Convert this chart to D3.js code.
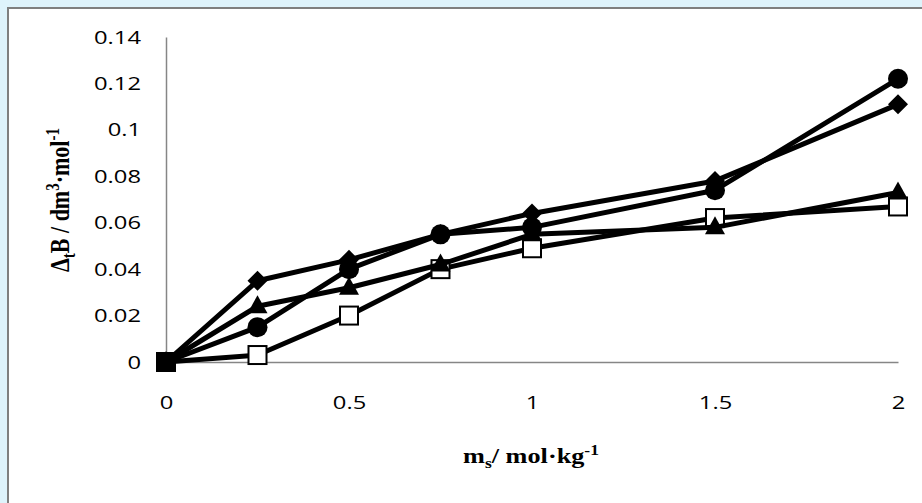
<!DOCTYPE html>
<html>
<head>
<meta charset="utf-8">
<script src="https://cdn.jsdelivr.net/npm/d3@7"></script>
<style>
  body { margin: 0; background: #def3fb; }
  svg { display: block; }
</style>
</head>
<body>
<div class="container"></div>
<script>
// data
const xs = [0, 0.25, 0.5, 0.75, 1, 1.5, 2];
const squareVals = [0, 0.003, 0.020, 0.040, 0.049, 0.062, 0.067];
const triangleVals = [0, 0.024, 0.032, 0.042, 0.055, 0.058, 0.073];
const circleVals = [0, 0.015, 0.040, 0.055, 0.058, 0.074, 0.122];
const diamondVals = [0, 0.035, 0.044, 0.055, 0.064, 0.078, 0.111];
const originVals = [0]; // filled square sitting at the origin
const xTicks = [0, 0.5, 1, 1.5, 2];
const yTicks = [0, 0.02, 0.04, 0.06, 0.08, 0.1, 0.12, 0.14];

const width = 922;
const height = 503;
const stretch = 1.25; // the source picture is stretched sideways

// scales
const xScale = d3.scaleLinear().domain([0, 2]).range([166, 898]);
const yScale = d3.scaleLinear().domain([0, 0.14]).range([362, 37]);

const svg = d3.select("div.container")
  .append("svg")
  .attr("width", width)
  .attr("height", height);

// chart area box
svg.append("rect")
  .attr("x", 8).attr("y", 8)
  .attr("width", width).attr("height", height)
  .attr("fill", "#fff")
  .attr("stroke", "#7f7f7f")
  .attr("stroke-width", 2);

// axes (no tick marks, gray lines)
const xAxis = d3.axisBottom(xScale).tickValues(xTicks).tickSize(0).tickPadding(34)
  .tickFormat(d => d3.format("")(d));
const yAxis = d3.axisLeft(yScale).tickValues(yTicks).tickSize(0).tickPadding(20)
  .tickFormat(d => d3.format("")(d));

const gx = svg.append("g").attr("id", "x-axis").attr("transform", `translate(0,${yScale(0)})`).call(xAxis);
const gy = svg.append("g").attr("id", "y-axis").attr("transform", `translate(${xScale(0)},0)`).call(yAxis);
[gx, gy].forEach(g => {
  g.select(".domain").attr("stroke", "#868686").attr("stroke-width", 1.5);
  g.selectAll("text").attr("font-family", "Open Sans").attr("font-size", 19).attr("fill", "#000")
    .attr("transform", `scale(${stretch},1)`);
});

// series lines
const line = d3.line().x((d, i) => xScale(xs[i])).y(d => yScale(d));
const series = [
  { vals: squareVals, mark: "square" },
  { vals: triangleVals, mark: "triangle" },
  { vals: circleVals, mark: "circle" },
  { vals: diamondVals, mark: "diamond" }
];

series.forEach(s => {
  svg.append("path")
    .attr("d", line(s.vals))
    .attr("fill", "none")
    .attr("stroke", "#000")
    .attr("stroke-width", 5)
    .attr("stroke-linejoin", "round");

  const pts = svg.append("g").selectAll("g").data(s.vals).enter().append("g")
    .attr("transform", (d, i) => `translate(${xScale(xs[i])},${yScale(d)})`);
  if (s.mark == "square") {
    pts.append("rect").attr("x", -9).attr("y", -9).attr("width", 18).attr("height", 18)
      .attr("fill", "#fff").attr("stroke", "#000").attr("stroke-width", 2);
  } else if (s.mark == "triangle") {
    pts.append("path").attr("d", "M0,-11L10,7L-10,7Z").attr("fill", "#000");
  } else if (s.mark == "circle") {
    pts.append("circle").attr("r", 10).attr("fill", "#000");
  } else {
    pts.append("path").attr("d", "M0,-10L10,0L0,10L-10,0Z").attr("fill", "#000");
  }
});

svg.selectAll("rect.origin").data(originVals).enter().append("rect")
  .attr("class", "origin")
  .attr("x", (d, i) => xScale(xs[i]) - 10).attr("y", d => yScale(d) - 10)
  .attr("width", 20).attr("height", 20).attr("fill", "#000");

// axis titles
const xt = svg.append("text")
  .attr("transform", `translate(531,463) scale(${stretch},1)`)
  .attr("text-anchor", "middle")
  .attr("font-family", "Liberation Serif").attr("font-weight", "bold").attr("font-size", 21);
xt.append("tspan").text("m");
xt.append("tspan").attr("font-size", 14).attr("dy", 5).text("s");
xt.append("tspan").attr("dy", -5).text("/ mol·kg");
xt.append("tspan").attr("font-size", 14).attr("dy", -8).text("-1");

const yt = svg.append("text")
  .attr("transform", `translate(69,200) scale(${stretch},1) rotate(-90)`)
  .attr("text-anchor", "middle")
  .attr("font-family", "Liberation Serif").attr("font-weight", "bold").attr("font-size", 22);
yt.append("tspan").text("Δ");
yt.append("tspan").attr("font-size", 15).attr("dy", 5).text("t");
yt.append("tspan").attr("dy", -5).text("B / dm");
yt.append("tspan").attr("font-size", 15).attr("dy", -8).text("3");
yt.append("tspan").attr("dy", 8).text("·mol");
yt.append("tspan").attr("font-size", 15).attr("dy", -8).text("-1");
</script>
</body>
</html>
